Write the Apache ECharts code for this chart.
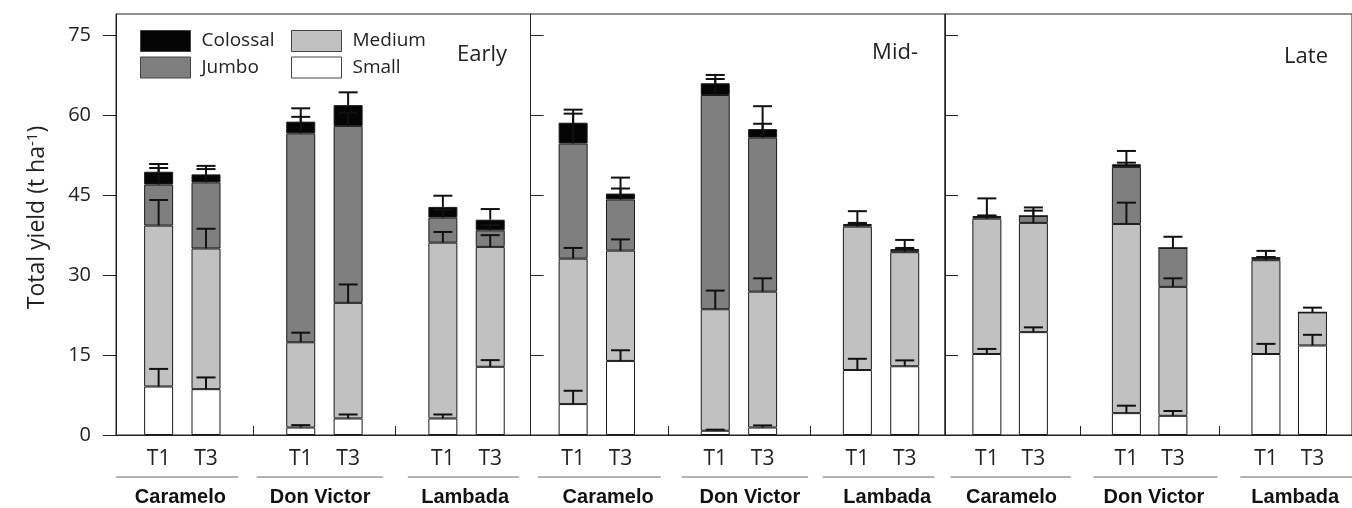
<!DOCTYPE html>
<html>
<head>
<meta charset="utf-8">
<script src="https://cdn.jsdelivr.net/npm/echarts@6/dist/echarts.min.js"></script>
<style>
html,body{margin:0;padding:0;background:#fff;}
#chart{width:1352px;height:508px;}
</style>
</head>
<body>
<div id="chart"></div>
<script>
// ---------- data ----------
const stages = ['Early', 'Mid-', 'Late'];
const cultivars = ['Caramelo', 'Don Victor', 'Lambada'];
const treatments = ['T1', 'T3'];
const sizeClasses = ['Small', 'Medium', 'Jumbo', 'Colossal']; // bottom -> top
const yTicks = [0, 15, 30, 45, 60, 75];
const yAxisTitle = 'Total yield (t ha{sup|-1})';

// segment values, order: Caramelo T1, T3, Don Victor T1, T3, Lambada T1, T3 (t/ha)
const smallEarly    = [9.1, 8.6, 1.4, 3.1, 3.1, 12.8];
const mediumEarly   = [30.2, 26.4, 16.0, 21.7, 33.0, 22.5];
const jumboEarly    = [7.7, 12.4, 39.2, 33.2, 4.7, 3.1];
const colossalEarly = [2.4, 1.5, 2.2, 3.9, 2.0, 2.0];
const smallErrEarly    = [3.3, 2.2, 0.45, 0.75, 0.75, 1.25];
const mediumErrEarly   = [4.8, 3.7, 1.8, 3.45, 2.0, 2.2];
const jumboErrEarly    = [3.1, 2.5, 3.1, 2.5, 1.5, 1.0];
const colossalErrEarly = [1.45, 1.6, 2.5, 2.4, 2.1, 2.0];

const smallMid    = [5.8, 13.9, 0.8, 1.4, 12.2, 12.9];
const mediumMid   = [27.3, 20.7, 22.8, 25.5, 26.9, 21.4];
const jumboMid    = [21.6, 9.6, 40.2, 28.9, 0.3, 0.4];
const colossalMid = [3.9, 1.1, 2.2, 1.6, 0.2, 0.2];
const smallErrMid    = [2.5, 2.0, 0.2, 0.4, 2.1, 1.1];
const mediumErrMid   = [2.0, 2.1, 3.5, 2.5, 2.9, 2.3];
const jumboErrMid    = [5.6, 2.05, 3.0, 2.6, 0.2, 0.2];
const colossalErrMid = [2.45, 3.0, 1.56, 4.3, 0.2, 0.2];

const smallLate    = [15.2, 19.3, 4.1, 3.6, 15.2, 16.8];
const mediumLate   = [25.4, 20.5, 35.5, 24.2, 17.6, 6.2];
const jumboLate    = [0.3, 1.3, 10.7, 7.3, 0.4, 0];
const colossalLate = [0.2, 0, 0.5, 0, 0.1, 0];
const smallErrLate    = [0.95, 0.9, 1.4, 0.9, 1.9, 2.0];
const mediumErrLate   = [3.8, 2.3, 4.0, 1.6, 1.75, 0.9];
const jumboErrLate    = [0.2, 1.6, 0.8, 2.1, 0.2, 0];
const colossalErrLate = [0.1, 0, 2.5, 0, 0.1, 0];

const stageValues = [
  [smallEarly, mediumEarly, jumboEarly, colossalEarly],
  [smallMid, mediumMid, jumboMid, colossalMid],
  [smallLate, mediumLate, jumboLate, colossalLate]
];
const stageErrors = [
  [smallErrEarly, mediumErrEarly, jumboErrEarly, colossalErrEarly],
  [smallErrMid, mediumErrMid, jumboErrMid, colossalErrMid],
  [smallErrLate, mediumErrLate, jumboErrLate, colossalErrLate]
];

// ---------- layout / style ----------
const FONT = '"Open Sans", "Noto Sans", sans-serif';
const TEXT = '#222';
const classColors = { Small: '#ffffff', Medium: '#c1c1c1', Jumbo: '#7f7f7f', Colossal: '#050505' };
const panelLeft = [116, 530.5, 945];
const panelWidth = 414.5;
const gridTop = 14, gridHeight = 421;
const xMin = -0.9, xMax = 7.85;
// bar slot for cultivar g, treatment t (one empty slot between cultivars)
const slot = (g, t) => g * 3 + t;
const xPos = [];
cultivars.forEach((c, g) => treatments.forEach((tr, t) => xPos.push(slot(g, t))));
const separators = [2, 5];
// underline spans and name centres of cultivar groups, per panel (axis units)
const groupSpans = [
  [[-0.9, 1.68], [2.07, 4.74], [5.26, 7.61]],
  [[-0.74, 1.85], [2.29, 4.96], [5.27, 7.63]],
  [[-0.78, 1.81], [2.29, 4.96], [5.45, 8.2]]
];
const groupCentres = [[0.46, 3.41, 6.47], [0.74, 3.73, 6.63], [0.53, 3.59, 6.63]];
const titleRight = [845, 434, 24];
const titleTop = [44, 42, 46];

// ---------- build option ----------
const grids = [], xAxes = [], yAxes = [], series = [];
stages.forEach((stage, gi) => {
  grids.push({ left: panelLeft[gi], top: gridTop, width: panelWidth, height: gridHeight,
    show: true, borderColor: '#222', borderWidth: 1, backgroundColor: 'transparent' });
  xAxes.push({
    gridIndex: gi, type: 'value', min: xMin, max: xMax,
    axisLine: { show: true, onZero: false, lineStyle: { color: '#222', width: 1 } },
    axisTick: { show: true, customValues: separators, inside: true, length: 9, lineStyle: { color: '#222' } },
    axisLabel: { show: true, customValues: xPos, margin: 14, fontSize: 21, fontFamily: FONT, color: TEXT,
      formatter: v => treatments[Math.round(v) % 3] },
    splitLine: { show: false }
  });
  yAxes.push({
    gridIndex: gi, type: 'value', min: 0, max: 79,
    name: gi === 0 ? yAxisTitle : '',
    nameLocation: 'middle', nameGap: 66,
    nameTextStyle: { fontSize: 23, fontFamily: FONT, color: TEXT, padding: [0, 0, 0, 14],
      rich: { sup: { fontSize: 15, fontFamily: FONT, color: TEXT, verticalAlign: 'top', padding: [0, 0, 10, 0] } } },
    axisLine: { show: true, onZero: false, lineStyle: { color: '#222', width: 1 } },
    axisTick: { show: true, customValues: yTicks, inside: gi !== 0, length: 13, lineStyle: { color: '#222' } },
    axisLabel: { show: gi === 0, customValues: yTicks, margin: 25, fontSize: 20, fontFamily: FONT, color: TEXT },
    splitLine: { show: false }
  });

  const cum = xPos.map(() => 0);
  const errItems = [];
  sizeClasses.forEach((cls, ci) => {
    const vals = stageValues[gi][ci];
    const errs = stageErrors[gi][ci];
    series.push({
      name: cls, type: 'bar', xAxisIndex: gi, yAxisIndex: gi, stack: 'panel' + gi,
      barWidth: 29, z: 2,
      encode: { x: 1, y: 0 },
      itemStyle: { color: classColors[cls], borderColor: '#1a1a1a', borderWidth: 1 },
      emphasis: { disabled: true },
      data: xPos.map((x, i) => [vals[i], x])
    });
    xPos.forEach((x, i) => {
      cum[i] += vals[i];
      if (errs[i] > 0) errItems.push([x, cum[i], cum[i] + errs[i]]);
    });
  });
  series.push({
    type: 'custom', xAxisIndex: gi, yAxisIndex: gi, z: 5, clip: false, silent: true,
    data: errItems,
    renderItem: (params, api) => {
      const p0 = api.coord([api.value(0), api.value(1)]);
      const p1 = api.coord([api.value(0), api.value(2)]);
      return { type: 'group', children: [
        { type: 'line', shape: { x1: p0[0], y1: p0[1], x2: p1[0], y2: p1[1] }, style: { stroke: '#111', lineWidth: 2 } },
        { type: 'line', shape: { x1: p1[0] - 9.5, y1: p1[1], x2: p1[0] + 9.5, y2: p1[1] }, style: { stroke: '#111', lineWidth: 2 } }
      ] };
    }
  });
  series.push({
    type: 'custom', xAxisIndex: gi, yAxisIndex: gi, z: 5, clip: false, silent: true,
    data: cultivars.map((c, k) => [k]),
    renderItem: (params, api) => {
      const k = api.value(0);
      const span = groupSpans[gi][k];
      const a = api.coord([span[0], 0]);
      const b = api.coord([span[1], 0]);
      const c = api.coord([groupCentres[gi][k], 0]);
      return { type: 'group', children: [
        { type: 'line', shape: { x1: a[0], y1: a[1] + 42, x2: b[0], y2: b[1] + 42 }, style: { stroke: '#666', lineWidth: 1 } },
        { type: 'text', style: { text: cultivars[k], x: c[0], y: c[1] + 62, align: 'center', verticalAlign: 'middle',
          font: 'bold 20px "Liberation Sans", Arial, sans-serif', fill: '#111' } }
      ] };
    }
  });
});

const legendCommon = {
  orient: 'vertical', icon: 'rect', itemWidth: 50, itemHeight: 21, itemGap: 4.5, padding: 0,
  selectedMode: false,
  textStyle: { fontSize: 19, fontFamily: FONT, color: TEXT, padding: [0, 0, 0, 6] },
  itemStyle: { borderColor: '#444', borderWidth: 1 }
};

const option = {
  backgroundColor: '#fff',
  animation: false,
  title: stages.map((s, gi) => ({
    text: s, right: titleRight[gi], top: titleTop[gi], padding: 0,
    textStyle: { fontSize: 22, fontWeight: 'normal', fontFamily: FONT, color: TEXT }
  })),
  legend: [
    Object.assign({}, legendCommon, { data: ['Colossal', 'Jumbo'], left: 140, top: 30 }),
    Object.assign({}, legendCommon, { data: ['Medium', 'Small'], left: 291, top: 30 })
  ],
  grid: grids, xAxis: xAxes, yAxis: yAxes, series: series
};

const chart = echarts.init(document.getElementById('chart'), null, { renderer: 'canvas' });
chart.setOption(option);
</script>
</body>
</html>
